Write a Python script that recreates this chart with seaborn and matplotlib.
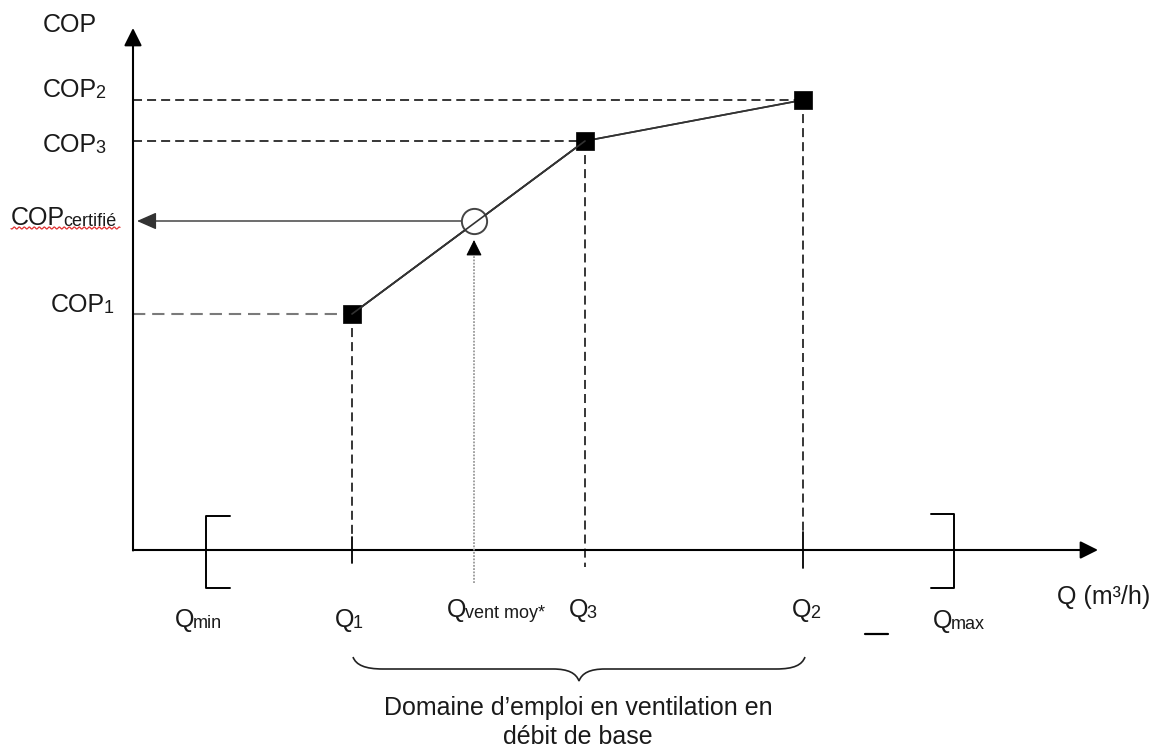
import numpy as np
import pandas as pd
import matplotlib
matplotlib.use("Agg")
import matplotlib.pyplot as plt
import seaborn as sns
from matplotlib.path import Path
from matplotlib.patches import PathPatch

sns.set_theme(style="white")
plt.rcParams['font.family'] = ['Liberation Sans', 'DejaVu Sans']

# ---------------- data (schematic units) ----------------
point_names = ["Q1", "Q3", "Q2"]
q_points = [21.9, 45.2, 67.0]          # Q1, Q3, Q2
cop_points = [23.6, 40.9, 45.0]        # COP1, COP3, COP2
q_vent_moy = 34.1
cop_certifie = 32.9
q_min = 7.25
q_max = 82.1

cop_axis_label = "COP"
q_axis_label = "Q (m³/h)"
cop_tick_main = ["COP", "COP", "COP", "COP"]
cop_tick_sub = ["2", "3", "certifié", "1"]
q_tick_main = ["Q", "Q", "Q", "Q", "Q", "Q"]
q_tick_sub = ["min", "1", "vent moy*", "3", "2", "max"]
domain_text = ["Domaine d\u2019emploi en ventilation en", "débit de base"]

# ---------------- figure ----------------
fig = plt.figure(figsize=(11.62, 7.53), dpi=100)
ax = fig.add_axes([0, 0, 1, 1])
ax.set_xlim(-13.3, 102.9)
ax.set_ylim(-20.3, 55.0)
ax.axis("off")

FS = 18
FS_SUB = 13
TXT = "#1a1a1a"
DASH = (0, (5.9, 3.3))

# axes with arrows
ax.annotate("", xy=(0, 52.2), xytext=(0, -0.05),
            arrowprops=dict(arrowstyle="-|>,head_length=0.6,head_width=0.3",
                            color="black", lw=1.5, shrinkA=0, shrinkB=0,
                            mutation_scale=18))
ax.annotate("", xy=(96.5, 0), xytext=(0, 0),
            arrowprops=dict(arrowstyle="-|>,head_length=0.6,head_width=0.3",
                            color="black", lw=1.5, shrinkA=0, shrinkB=0,
                            mutation_scale=18))

df = pd.DataFrame({"Q": q_points, "COP": cop_points, "name": point_names})

# guide lines (dashed)
for i, (q, c) in enumerate(zip(q_points, cop_points)):
    col = "#7a7a7a" if i == 0 else "black"
    lw = 1.5 if i == 0 else 1.1
    ax.plot([0, q], [c, c], ls=DASH, color=col, lw=lw, zorder=2)
# vertical dashes
ax.plot([q_points[0], q_points[0]], [cop_points[0], 1.3], ls=DASH, color="black", lw=1.1, zorder=2)
ax.plot([q_points[1], q_points[1]], [cop_points[1], -1.7], ls=DASH, color="black", lw=1.1, zorder=2)
ax.plot([q_points[2], q_points[2]], [cop_points[2], 1.8], ls=DASH, color="black", lw=1.1, zorder=2)
# solid ticks at Q1 and Q2
ax.plot([q_points[0], q_points[0]], [1.3, -1.3], color="black", lw=1.3, zorder=3)
ax.plot([q_points[2], q_points[2]], [1.8, -1.8], color="black", lw=1.3, zorder=3)

# brackets Qmin / Qmax
ax.plot([q_min + 2.4, q_min, q_min, q_min + 2.4], [3.45, 3.45, -3.8, -3.8], color="black", lw=1.4)
ax.plot([q_max - 2.3, q_max, q_max, q_max - 2.3], [3.6, 3.6, -3.8, -3.8], color="black", lw=1.4)

# main polyline and points
sns.lineplot(data=df, x="Q", y="COP", color="#333333", lw=1.2, ax=ax, zorder=4, sort=False)
sns.scatterplot(data=df, x="Q", y="COP", marker="s", s=165, color="black",
                edgecolor="black", linewidth=0.5, ax=ax, zorder=6, legend=False)
sns.scatterplot(x=[q_vent_moy], y=[cop_certifie], marker="o", s=330,
                facecolor="white", edgecolor="#444444", linewidth=1.4, ax=ax, zorder=7)
# keep line visible through the circle
sns.lineplot(data=df, x="Q", y="COP", color="#333333", lw=1.2, ax=ax, zorder=5.5, sort=False)
ax.plot([q_points[0], q_points[1]], [cop_points[0], cop_points[1]], color="#333333", lw=1.2, zorder=8)

# COP certifie arrow
ax.annotate("", xy=(0.4, cop_certifie), xytext=(q_vent_moy - 1.15, cop_certifie),
            arrowprops=dict(arrowstyle="-|>,head_length=0.75,head_width=0.33",
                            color="#333333", lw=1.0, shrinkA=0, shrinkB=0,
                            mutation_scale=16))
# Q vent moy dotted arrow
ax.plot([q_vent_moy, q_vent_moy], [-3.3, 30.0], ls=(0, (1, 0.8)), color="#9a9a9a", lw=1.3, zorder=3)
ax.annotate("", xy=(q_vent_moy, 31.0), xytext=(q_vent_moy, 29.9),
            arrowprops=dict(arrowstyle="-|>,head_length=0.7,head_width=0.35",
                            color="black", lw=0.8, shrinkA=0, shrinkB=0,
                            mutation_scale=14))

# text helper: main + subscript sharing the baseline
def label(x, y, main, sub=None, ha="left"):
    t = ax.text(x, y, main, fontsize=FS, ha=ha, va="baseline", color=TXT)
    if sub:
        ax.annotate(sub, xy=(1, 0), xycoords=t, xytext=(-1.3, 0.2),
                    textcoords="offset points", fontsize=FS_SUB,
                    ha="left", va="bottom", color=TXT)
    return t

label(-9.0, 51.8, cop_axis_label)
cop_label_pos = [(-9.0, 45.3), (-9.0, 39.8), (-12.2, 32.5), (-8.2, 23.8)]
for (x, y), m, s in zip(cop_label_pos, cop_tick_main, cop_tick_sub):
    label(x, y, m, s)

q_label_pos = [(4.2, -7.7), (20.2, -7.7), (31.4, -6.7), (43.6, -6.7), (65.9, -6.7), (80.0, -7.8)]
for (x, y), m, s in zip(q_label_pos, q_tick_main, q_tick_sub):
    label(x, y, m, s)

ax.text(92.4, -5.4, q_axis_label, fontsize=FS, ha="left", va="baseline", color=TXT)

# red wavy spell-check underline
wx = np.linspace(-12.2, -1.3, 400)
ax.plot(wx, 32.2 + 0.1 * np.sin(2 * np.pi * wx / 0.5), color="#e03030", lw=0.9)

# small dash
ax.plot([73.2, 75.5], [-8.4, -8.4], color="black", lw=1.6)

# curly brace
verts = [(22.0, -10.7), (22.3, -11.5), (23.2, -11.9), (25.0, -11.9),
         (42.0, -11.9),
         (43.5, -11.9), (44.3, -12.3), (44.6, -13.1),
         (44.9, -12.3), (45.7, -11.9), (47.2, -11.9),
         (64.3, -11.9),
         (66.1, -11.9), (66.9, -11.5), (67.2, -10.7)]
codes = [Path.MOVETO, Path.CURVE4, Path.CURVE4, Path.CURVE4,
         Path.LINETO,
         Path.CURVE4, Path.CURVE4, Path.CURVE4,
         Path.CURVE4, Path.CURVE4, Path.CURVE4,
         Path.LINETO,
         Path.CURVE4, Path.CURVE4, Path.CURVE4]
ax.add_patch(PathPatch(Path(verts, codes), facecolor="none", edgecolor="#222222", lw=1.2))

ax.text(44.5, -16.5, domain_text[0], fontsize=FS, ha="center", va="baseline", color=TXT)
ax.text(44.5, -19.4, domain_text[1], fontsize=FS, ha="center", va="baseline", color=TXT)

fig.savefig("out.png", dpi=100, facecolor="white")
